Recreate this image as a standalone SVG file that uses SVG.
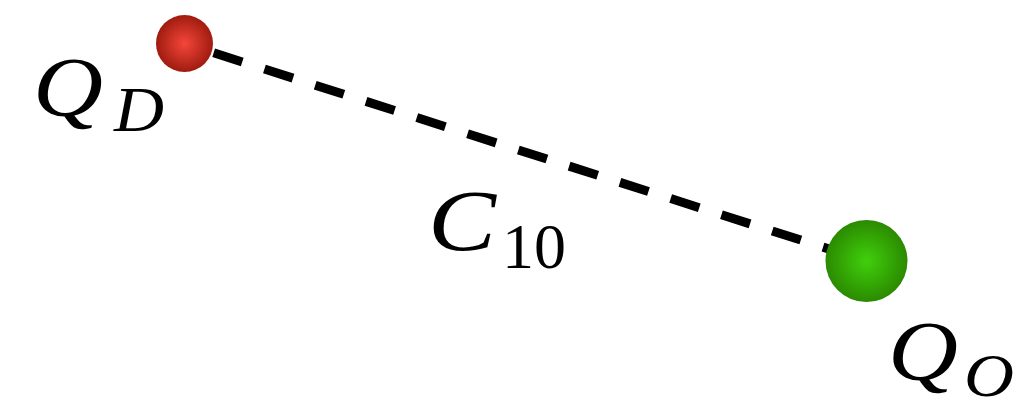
<svg xmlns="http://www.w3.org/2000/svg" width="1024" height="409" viewBox="0 0 1024 409">
  <style>
    .math { font-family: "Liberation Serif", "DejaVu Serif", serif; font-style: italic; fill: #000; }
    .num { font-family: "Liberation Serif", "DejaVu Serif", serif; font-style: normal; fill: #000; }
    .conn { stroke: #000; stroke-width: 9; fill: none; stroke-dasharray: 30 23.3; stroke-dashoffset: 22.7; }
  </style>
  <defs>
    <radialGradient id="gRed" cx="50%" cy="50%" r="50%">
      <stop offset="0" stop-color="#f4473a"/>
      <stop offset="1" stop-color="#a01b0f"/>
    </radialGradient>
    <radialGradient id="gGreen" cx="50%" cy="50%" r="50%">
      <stop offset="0" stop-color="#40d00c"/>
      <stop offset="1" stop-color="#2b8a00"/>
    </radialGradient>
  </defs>
  <rect width="1024" height="409" fill="#fff"/>
  <g id="connectors">
    <line class="conn" x1="184.5" y1="43.5" x2="866.5" y2="261"/>
    <text class="math" x="428" y="250" font-size="86" textLength="68" lengthAdjust="spacingAndGlyphs">C</text>
    <text class="num" x="502" y="268" font-size="64">10</text>
  </g>
  <g id="QD">
    <circle cx="184.5" cy="43.5" r="28.5" fill="url(#gRed)"/>
    <text class="math" x="33" y="116" font-size="84" textLength="70" lengthAdjust="spacingAndGlyphs">Q</text>
    <text class="math" x="114" y="131" font-size="64" textLength="50" lengthAdjust="spacingAndGlyphs">D</text>
  </g>
  <g id="QO">
    <circle cx="866.5" cy="261" r="41" fill="url(#gGreen)"/>
    <text class="math" x="888" y="380" font-size="84" textLength="70" lengthAdjust="spacingAndGlyphs">Q</text>
    <text class="math" x="964" y="396" font-size="62" textLength="50" lengthAdjust="spacingAndGlyphs">O</text>
  </g>
</svg>
